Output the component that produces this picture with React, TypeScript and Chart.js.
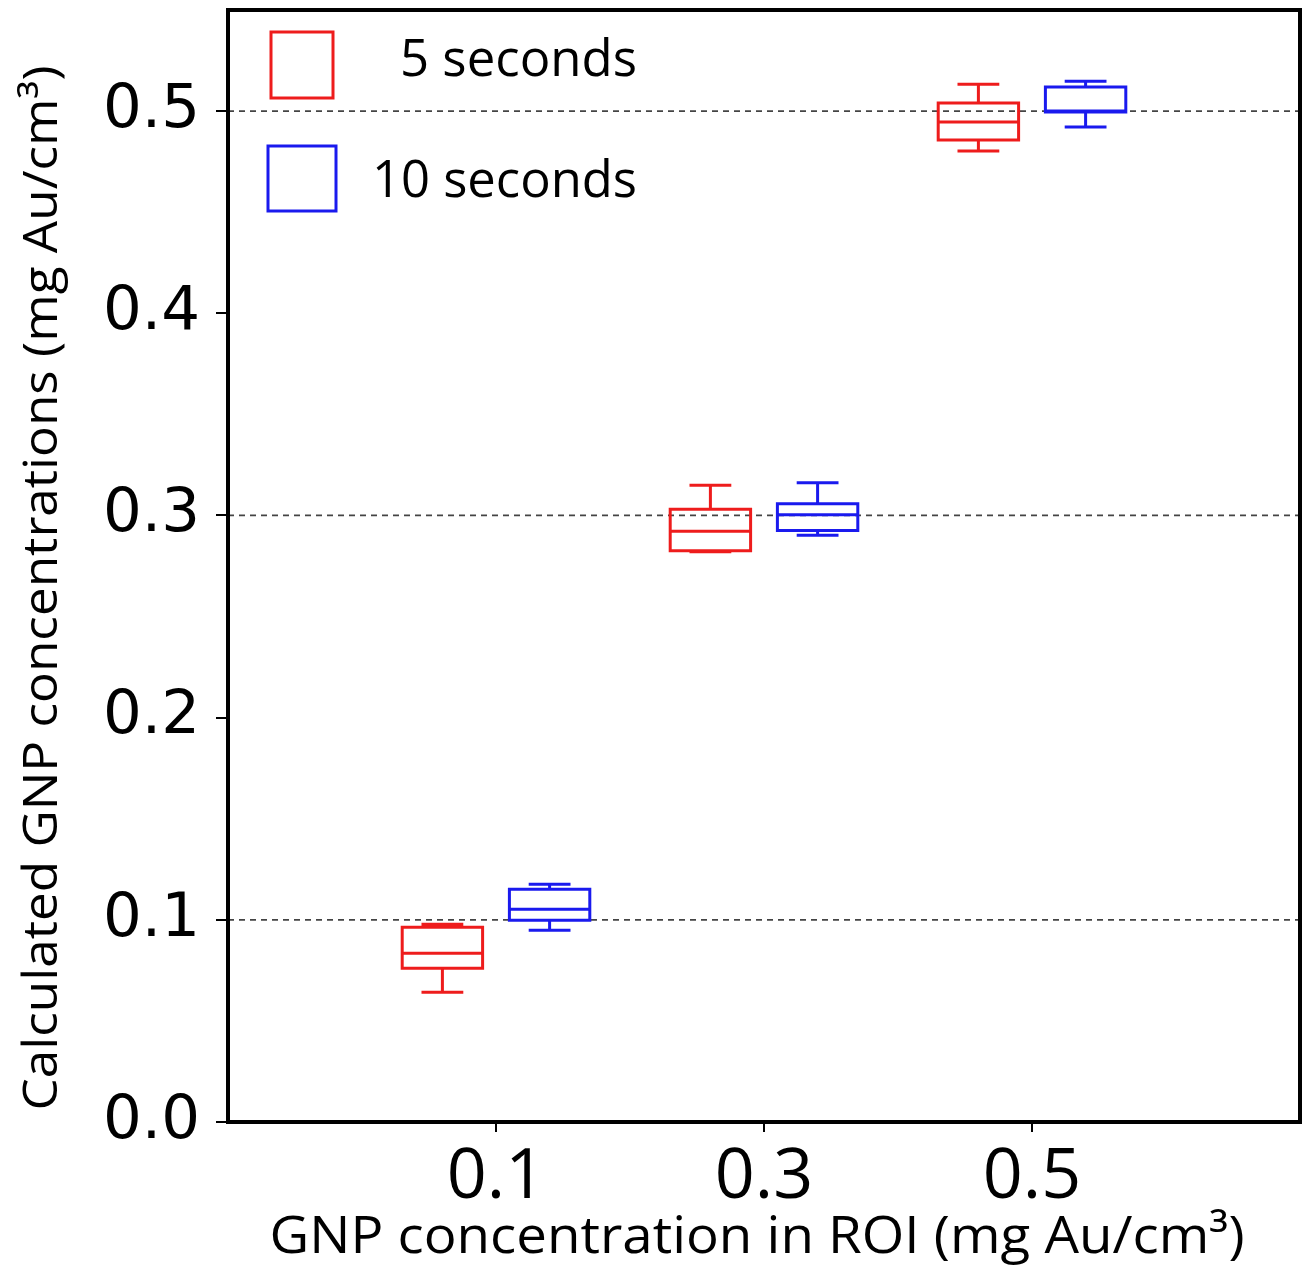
import React, { useEffect, useRef } from "react";
import { Chart, registerables } from "chart.js";

Chart.register(...registerables);

// Categories (x tick labels) and their box positions
const categories = ["0.1", "0.3", "0.5"];
const categoryPositions = [1, 2, 3];
const referenceLevels = [0.1, 0.3, 0.5];
const yTicks = [0, 0.1, 0.2, 0.3, 0.4, 0.5];

// Series: 5 seconds (red)
const red5sMin = [0.0642, 0.282, 0.4802];
const red5sQ1 = [0.0761, 0.2826, 0.4857];
const red5sMedian = [0.0835, 0.2922, 0.4946];
const red5sQ3 = [0.0963, 0.3031, 0.504];
const red5sMax = [0.0978, 0.3149, 0.5133];

// Series: 10 seconds (blue)
const blue10sMin = [0.0949, 0.2902, 0.4921];
const blue10sQ1 = [0.0998, 0.2925, 0.4995];
const blue10sMedian = [0.1052, 0.3004, 0.5];
const blue10sQ3 = [0.1151, 0.3058, 0.5119];
const blue10sMax = [0.1176, 0.3162, 0.5148];

const seriesNames = ["5 seconds", "10 seconds"];
const xTitle = "GNP concentration in ROI (mg Au/cm³)";
const yTitle = "Calculated GNP concentrations (mg Au/cm³)";

const boxSeries = [
  { name: seriesNames[0], color: "#ee1c1c", offset: -0.2, min: red5sMin, q1: red5sQ1, med: red5sMedian, q3: red5sQ3, max: red5sMax },
  { name: seriesNames[1], color: "#1a1aee", offset: 0.2, min: blue10sMin, q1: blue10sQ1, med: blue10sMedian, q3: blue10sQ3, max: blue10sMax },
];

const BOX_WIDTH = 0.3;
const FONT = "'Open Sans', 'DejaVu Sans', sans-serif";

function fitText(ctx: CanvasRenderingContext2D, text: string, cx: number, cy: number, width: number) {
  const w = ctx.measureText(text).width;
  const s = width / w;
  ctx.save();
  ctx.translate(cx, cy);
  ctx.scale(s, 1);
  ctx.fillText(text, 0, 0);
  ctx.restore();
}

const boxPlugin = {
  id: "boxPlugin",
  afterDatasetsDraw(chart: any) {
    const { ctx } = chart;
    const xs = chart.scales.x;
    const ys = chart.scales.y;
    ctx.save();
    ctx.lineWidth = 3;
    ctx.setLineDash([]);
    boxSeries.forEach((s) => {
      ctx.strokeStyle = s.color;
      categoryPositions.forEach((p, i) => {
        const xc = xs.getPixelForValue(p + s.offset);
        const hw = (xs.getPixelForValue(p + s.offset + BOX_WIDTH / 2) - xc);
        const cw = hw * 0.52;
        const yMin = ys.getPixelForValue(s.min[i]);
        const yQ1 = ys.getPixelForValue(s.q1[i]);
        const yMed = ys.getPixelForValue(s.med[i]);
        const yQ3 = ys.getPixelForValue(s.q3[i]);
        const yMax = ys.getPixelForValue(s.max[i]);
        ctx.beginPath();
        ctx.rect(xc - hw, yQ3, hw * 2, yQ1 - yQ3);
        ctx.moveTo(xc - hw, yMed);
        ctx.lineTo(xc + hw, yMed);
        ctx.moveTo(xc, yQ3);
        ctx.lineTo(xc, yMax);
        ctx.moveTo(xc - cw, yMax);
        ctx.lineTo(xc + cw, yMax);
        ctx.moveTo(xc, yQ1);
        ctx.lineTo(xc, yMin);
        ctx.moveTo(xc - cw, yMin);
        ctx.lineTo(xc + cw, yMin);
        ctx.stroke();
      });
    });
    ctx.restore();
  },
  afterDraw(chart: any) {
    const { ctx, chartArea } = chart;
    ctx.save();
    // frame
    ctx.strokeStyle = "#000";
    ctx.lineWidth = 4;
    ctx.setLineDash([]);
    ctx.strokeRect(chartArea.left, chartArea.top, chartArea.right - chartArea.left, chartArea.bottom - chartArea.top);

    // legend
    ctx.lineWidth = 3;
    ctx.strokeStyle = boxSeries[0].color;
    ctx.strokeRect(271, 32, 62, 66);
    ctx.strokeStyle = boxSeries[1].color;
    ctx.strokeRect(268, 146, 68, 65);
    ctx.fillStyle = "#000";
    ctx.font = `52px ${FONT}`;
    ctx.textAlign = "left";
    ctx.textBaseline = "alphabetic";
    ctx.fillText(seriesNames[0], 400, 76, 237);
    ctx.fillText(seriesNames[1], 372, 197, 265);

    // x title
    ctx.font = `52px ${FONT}`;
    ctx.textAlign = "center";
    fitText(ctx, xTitle, 757, 1253, 975);

    // y title
    ctx.translate(44, 588);
    ctx.rotate(-Math.PI / 2);
    ctx.font = `47px ${FONT}`;
    ctx.textBaseline = "middle";
    fitText(ctx, yTitle, 0, 0, 1045);
    ctx.restore();
  },
};

export default function App() {
  const ref = useRef<HTMLCanvasElement | null>(null);
  useEffect(() => {
    document.body.style.margin = "0";
    const canvas = ref.current!;
    const refLineDatasets = referenceLevels.map((v) => ({
      type: "line" as const,
      data: [
        { x: 0, y: v },
        { x: 4, y: v },
      ],
      borderColor: "#444",
      borderWidth: 1.8,
      borderDash: [6, 5],
      pointRadius: 0,
      fill: false,
    }));
    const chart = new Chart(canvas, {
      type: "line",
      data: { datasets: refLineDatasets as any },
      options: {
        animation: false,
        responsive: false,
        layout: { padding: { top: 10, right: 7, left: 0, bottom: 0 } },
        plugins: { legend: { display: false }, tooltip: { enabled: false } },
        scales: {
          x: {
            type: "linear",
            min: 0,
            max: 4,
            afterBuildTicks(scale: any) {
              scale.ticks = categoryPositions.map((v) => ({ value: v }));
            },
            afterFit(scale: any) {
              scale.height = 150;
              scale.paddingLeft = 0;
              scale.paddingRight = 0;
            },
            ticks: {
              callback: (v: any) => {
                const i = categoryPositions.indexOf(Number(v));
                return i >= 0 ? categories[i] : "";
              },
              color: "#000",
              font: { family: FONT, size: 70 },
              padding: 4,
              maxRotation: 0,
            },
            grid: { drawOnChartArea: false, drawTicks: true, tickLength: 10, color: "#000", lineWidth: 2 },
            border: { display: false },
          },
          y: {
            type: "linear",
            min: 0,
            max: 0.55,
            afterBuildTicks(scale: any) {
              scale.ticks = yTicks.map((v) => ({ value: v }));
            },
            afterFit(scale: any) {
              scale.width = 228;
              scale.paddingTop = 0;
              scale.paddingBottom = 0;
            },
            ticks: {
              callback: (v: any) => Number(v).toFixed(1),
              color: "#000",
              font: { family: "'DejaVu Sans', sans-serif", size: 61 },
              padding: 16,
            },
            grid: { drawOnChartArea: false, drawTicks: true, tickLength: 12, color: "#000", lineWidth: 2 },
            border: { display: false },
          },
        },
      },
      plugins: [boxPlugin],
    });
    return () => chart.destroy();
  }, []);
  return <canvas ref={ref} width={1307} height={1272} style={{ display: "block" }} />;
}
